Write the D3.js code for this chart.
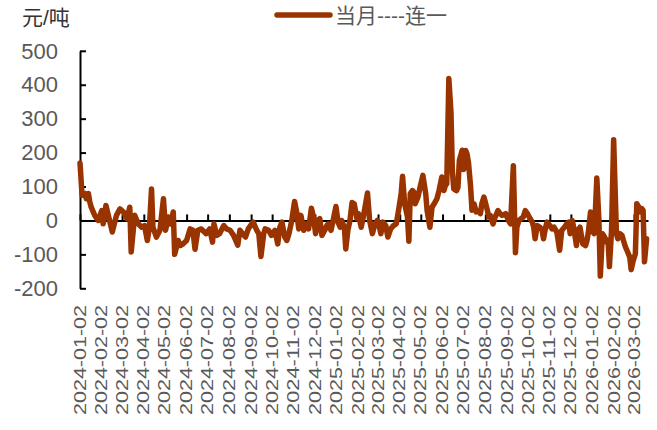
<!DOCTYPE html>
<html>
<head>
<meta charset="utf-8">
<script src="https://cdn.jsdelivr.net/npm/d3@7"></script>
<style>
  html, body { margin: 0; padding: 0; background: #fff; }
  svg { display: block; }
</style>
</head>
<body>
<svg id="chart" width="657" height="430"></svg>
<script>
// ---- data ----
const seriesName = "当月----连一";
const unitLabel = "元/吨";
const dates = [
"2024-01-02","2024-01-05","2024-01-09","2024-01-11","2024-01-14","2024-01-16","2024-01-18","2024-01-23","2024-01-28",
"2024-02-02","2024-02-04","2024-02-08","2024-02-12","2024-02-17","2024-02-23","2024-02-28",
"2024-03-04","2024-03-09","2024-03-13","2024-03-15","2024-03-20","2024-03-25","2024-03-30",
"2024-04-03","2024-04-07","2024-04-10","2024-04-13","2024-04-15","2024-04-20","2024-04-25","2024-04-30",
"2024-05-03","2024-05-07","2024-05-10","2024-05-14","2024-05-16","2024-05-21","2024-05-24","2024-05-28",
"2024-06-02","2024-06-07","2024-06-11","2024-06-14","2024-06-18","2024-06-23","2024-06-30",
"2024-07-05","2024-07-09","2024-07-11","2024-07-15","2024-07-19","2024-07-25","2024-07-29",
"2024-08-03","2024-08-08","2024-08-14","2024-08-17","2024-08-21","2024-08-25","2024-08-29",
"2024-09-03","2024-09-05","2024-09-10","2024-09-13","2024-09-16","2024-09-20","2024-09-22","2024-09-27",
"2024-10-01","2024-10-06","2024-10-10","2024-10-13","2024-10-16","2024-10-20","2024-10-23","2024-10-26","2024-10-30",
"2024-11-03","2024-11-06","2024-11-09","2024-11-12","2024-11-16","2024-11-19","2024-11-23","2024-11-27","2024-11-30",
"2024-12-03","2024-12-06","2024-12-09","2024-12-12","2024-12-16","2024-12-19","2024-12-21","2024-12-25","2024-12-28",
"2025-01-01","2025-01-04","2025-01-07","2025-01-09","2025-01-13","2025-01-15","2025-01-18","2025-01-21","2025-01-24","2025-01-27","2025-01-31",
"2025-02-02","2025-02-06","2025-02-09","2025-02-15","2025-02-18","2025-02-22","2025-02-25",
"2025-03-01","2025-03-04","2025-03-06","2025-03-09","2025-03-13","2025-03-16","2025-03-20","2025-03-24","2025-03-28",
"2025-04-01","2025-04-04","2025-04-06","2025-04-09","2025-04-13","2025-04-15","2025-04-17","2025-04-20","2025-04-22","2025-04-24","2025-04-28",
"2025-05-01","2025-05-05","2025-05-09","2025-05-11","2025-05-15","2025-05-18","2025-05-21","2025-05-25","2025-05-28","2025-05-30",
"2025-06-01","2025-06-04","2025-06-06","2025-06-08","2025-06-11","2025-06-14","2025-06-16","2025-06-18","2025-06-22","2025-06-24","2025-06-26","2025-06-30",
"2025-07-02","2025-07-05","2025-07-07","2025-07-09","2025-07-12","2025-07-14","2025-07-17","2025-07-20","2025-07-24","2025-07-26","2025-07-28","2025-07-31",
"2025-08-02","2025-08-05","2025-08-07","2025-08-09","2025-08-13","2025-08-16","2025-08-20","2025-08-23","2025-08-26","2025-08-31",
"2025-09-04","2025-09-07","2025-09-11","2025-09-14","2025-09-16","2025-09-19","2025-09-22","2025-09-25","2025-09-28",
"2025-10-01","2025-10-05","2025-10-08","2025-10-10","2025-10-12","2025-10-15","2025-10-19","2025-10-22","2025-10-24","2025-10-27","2025-10-29",
"2025-11-02","2025-11-05","2025-11-08","2025-11-12","2025-11-16","2025-11-19","2025-11-23","2025-11-26","2025-11-29",
"2025-12-01","2025-12-04","2025-12-06","2025-12-10","2025-12-12","2025-12-15","2025-12-17","2025-12-19","2025-12-23","2025-12-25","2025-12-27","2025-12-30",
"2026-01-01","2026-01-04","2026-01-06","2026-01-08","2026-01-11","2026-01-13","2026-01-16","2026-01-19","2026-01-22","2026-01-24","2026-01-26","2026-01-29",
"2026-02-01","2026-02-05","2026-02-07","2026-02-10","2026-02-13","2026-02-15","2026-02-18","2026-02-21","2026-02-24","2026-02-26",
"2026-03-01","2026-03-04","2026-03-06","2026-03-09","2026-03-11","2026-03-13","2026-03-15","2026-03-17","2026-03-20"
];
const values = [
169,74,79,64,79,54,39,15,0,
29,-10,44,10,-34,15,34,
25,5,39,-93,15,-10,-20,
-15,-59,-20,93,-20,-49,-29,64,
-29,10,-10,25,-100,-59,-74,-69,
-59,-25,-29,-85,-29,-25,-39,
-25,-64,-10,-44,-39,-15,-25,
-29,-44,-73,-29,-39,-49,-25,
-10,-5,-29,-39,-106,-39,-25,-29,
-44,-29,-69,-20,-5,-49,-59,-39,0,
56,25,-25,15,-29,-10,-25,36,10,
-39,0,5,-44,-29,-15,-10,-29,0,
41,-5,-20,0,-20,-84,-29,0,53,49,5,
20,-20,10,81,0,-39,-15,
0,-20,-39,-5,-15,-49,-25,-15,-10,
39,79,130,49,10,-61,79,88,84,49,69,
98,133,79,29,-20,39,49,64,88,108,
128,88,103,108,418,320,147,93,88,98,177,207,
150,206,195,170,100,30,49,25,29,20,49,69,
54,29,10,15,-10,10,29,20,15,20,
0,-10,161,-95,-20,0,5,10,29,
20,5,-5,-20,-54,-15,-20,-29,-54,-20,-5,
-15,-25,-20,-34,-88,-29,-20,-10,-5,
-39,0,-20,-74,-29,-20,-44,-69,-74,-59,-34,25,
-29,-39,29,125,0,-164,-39,-49,-64,-59,-136,-29,
238,-39,-54,-39,-44,-59,-79,-93,-108,-145,
-118,-98,49,39,25,35,30,-122,-54
];
const yTicks = [-200,-100,0,100,200,300,400,500];
const xTickLabels = [
"2024-01-02","2024-02-02","2024-03-02","2024-04-02","2024-05-02","2024-06-02","2024-07-02","2024-08-02","2024-09-02",
"2024-10-02","2024-11-02","2024-12-02","2025-01-02","2025-02-02","2025-03-02","2025-04-02","2025-05-02","2025-06-02",
"2025-07-02","2025-08-02","2025-09-02","2025-10-02","2025-11-02","2025-12-02","2026-01-02","2026-02-02","2026-03-02"
];
const xDomain = ["2024-01-02","2026-03-22"];

// ---- drawing ----
const parse = d3.timeParse("%Y-%m-%d");
const data = dates.map((d,i)=>({date: parse(d), value: values[i]}));
const svg = d3.select("#chart");
svg.append("rect").attr("width",657).attr("height",430).attr("fill","#fff");

const x = d3.scaleTime().domain(xDomain.map(parse)).range([80, 648]);
const y = d3.scaleLinear().domain([-200, 500]).range([288.3, 50.8]);

const axisColor = "#000";
const labelColor = "#595959";
const latin = "'Liberation Sans', Arial, sans-serif";
const cjk = "'Liberation Sans', 'Noto Sans CJK SC', sans-serif";

// Y axis (ticks inside)
const yAxis = svg.append("g").attr("transform","translate(80,0)")
  .call(d3.axisRight(y).tickValues(yTicks).tickSize(6).tickSizeOuter(0).tickFormat(""));
yAxis.selectAll("path,line").attr("stroke",axisColor).attr("stroke-width",2);

svg.append("g").selectAll("text").data(yTicks).join("text")
  .attr("x",58).attr("y",d=>y(d)).attr("dy","0.35em")
  .attr("text-anchor","end")
  .attr("font-family",latin).attr("font-size",22).attr("fill",labelColor)
  .text(d=>d);

// X axis on zero line (ticks upward)
const tickDates = xTickLabels.map(parse);
const xAxis = svg.append("g").attr("transform",`translate(0,${y(0)})`)
  .call(d3.axisTop(x).tickValues(tickDates).tickSize(6).tickSizeOuter(0).tickFormat(""));
xAxis.selectAll("path,line").attr("stroke",axisColor).attr("stroke-width",2);

svg.append("g").selectAll("text").data(xTickLabels).join("text")
  .attr("transform",d=>`translate(${x(parse(d))},305) rotate(-90)`)
  .attr("dy","0.35em")
  .attr("text-anchor","end")
  .attr("font-family",latin).attr("font-size",16).attr("fill",labelColor)
  .attr("textLength",110).attr("lengthAdjust","spacingAndGlyphs")
  .text(d=>d);

// Line
const line = d3.line().x(d=>x(d.date)).y(d=>y(d.value));
svg.append("path").datum(data)
  .attr("d",line).attr("fill","none")
  .attr("stroke","#993300").attr("stroke-width",5.5)
  .attr("stroke-linejoin","round").attr("stroke-linecap","round");

// Unit label
svg.append("text").attr("x",22).attr("y",25)
  .attr("font-family",cjk).attr("font-size",21).attr("fill","#333")
  .text(unitLabel);

// Legend
svg.append("line").attr("x1",277).attr("x2",330).attr("y1",15).attr("y2",15)
  .attr("stroke","#993300").attr("stroke-width",5.5).attr("stroke-linecap","round");
svg.append("text").attr("x",335).attr("y",23)
  .attr("font-family",cjk).attr("font-size",21).attr("fill",labelColor)
  .text(seriesName);
</script>
</body>
</html>
